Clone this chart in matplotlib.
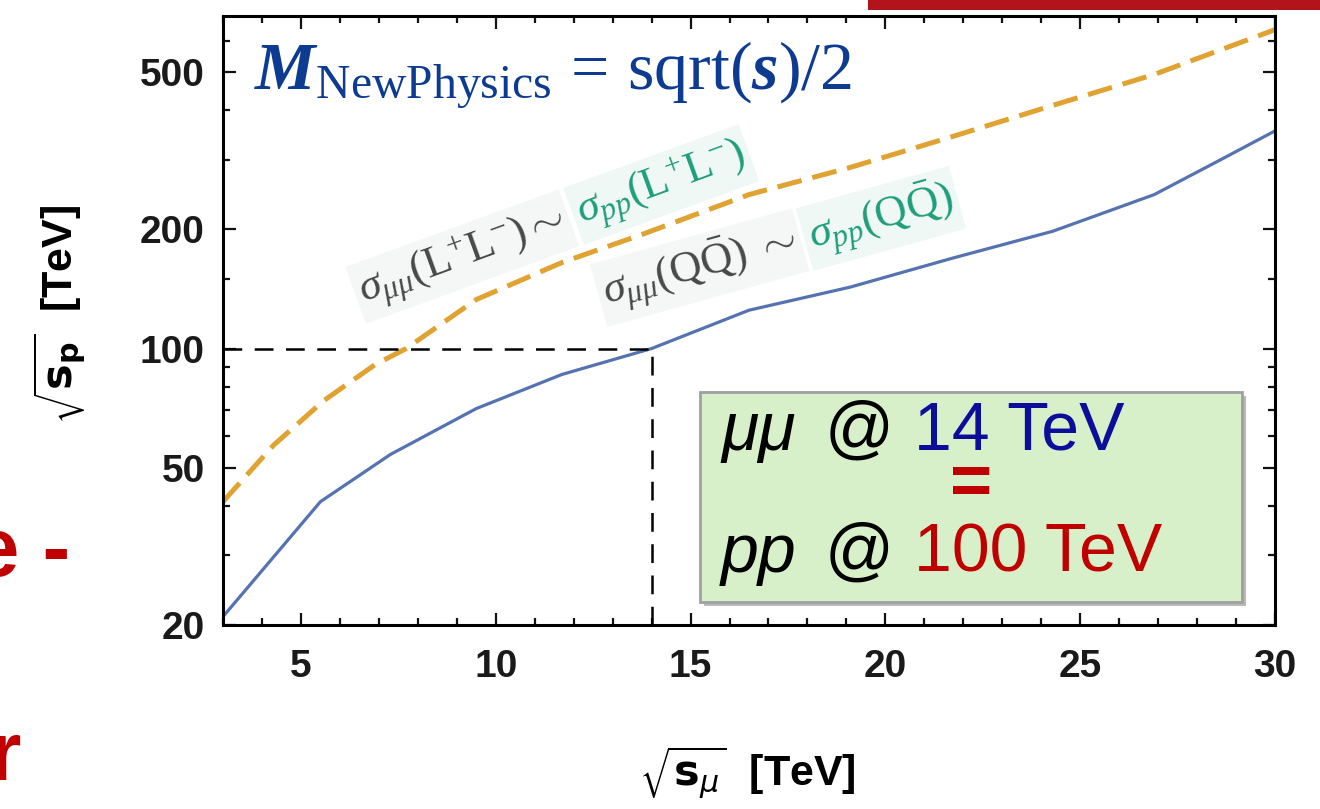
import matplotlib
matplotlib.use('Agg')
import matplotlib.pyplot as plt
import matplotlib.patheffects as pe
from matplotlib.patches import Rectangle
from matplotlib.ticker import FixedLocator, MultipleLocator, NullFormatter

# values
mu_QQ = [3, 5.5, 7.3, 9.5, 11.7, 14, 16.5, 19.1, 21.7, 24.3, 26.9, 28.6, 30]
p_QQ = [21, 41, 54, 70.5, 86, 100, 125, 143, 169, 198, 245, 300, 355]
mu_LL = [3, 4.3, 5.6, 6.9, 7.7, 9.5, 11.7, 13.8, 16.5, 19.1, 21.7, 24.3, 26.9, 30]
p_LL = [41, 57, 74, 91, 100, 133, 165, 195, 245, 287, 343, 412, 493, 640]
mu_ref = 14
p_ref = 100
xticks = [5, 10, 15, 20, 25, 30]
yticks = [20, 50, 100, 200, 500]
yminor = [30, 40, 60, 70, 80, 90, 150, 300, 400, 600]

plt.rcParams['mathtext.fontset'] = 'custom'
plt.rcParams['mathtext.rm'] = 'Liberation Serif'
plt.rcParams['mathtext.it'] = 'Liberation Serif:italic'
plt.rcParams['mathtext.bf'] = 'Liberation Serif:bold'
plt.rcParams['mathtext.bfit'] = 'Liberation Serif:italic:bold'
plt.rcParams['font.family'] = 'Liberation Sans'

W, H = 1320, 809
fig = plt.figure(figsize=(W / 100, H / 100), dpi=100)


def px(x, y):
    # pixel position (from top left) -> figure fraction
    return x / W, 1 - y / H


ax = fig.add_axes([223 / W, 1 - 625 / H, (1275 - 223) / W, (625 - 16) / H])
ax.set_xlim(3, 30)
ax.set_yscale('log')
ax.set_ylim(20, 693)

ax.plot(mu_LL, p_LL, color='#e0a230', lw=3.6, dashes=(5, 2.2), dash_capstyle='butt')
ax.plot(mu_QQ, p_QQ, color='#5573b0', lw=2.3)
ax.hlines(p_ref, 3, mu_ref, colors='k', lw=1.8, linestyles=(0, (7.5, 5)))
ax.vlines(mu_ref, 20, p_ref, colors='k', lw=1.8, linestyles=(0, (7.5, 5)))

ax.set_xticks(xticks)
ax.xaxis.set_minor_locator(MultipleLocator(1))
ax.yaxis.set_major_locator(FixedLocator(yticks))
ax.set_yticklabels([str(t) for t in yticks])
ax.yaxis.set_minor_locator(FixedLocator(yminor))
ax.yaxis.set_minor_formatter(NullFormatter())
ax.tick_params(which='both', direction='in', top=True, right=True, width=1.6, color='#111')
ax.tick_params(which='major', length=9)
ax.tick_params(which='minor', length=5)
ax.tick_params(axis='x', labelsize=28, pad=17, labelcolor='#1a1a1a')
ax.tick_params(axis='y', labelsize=28, pad=13, labelcolor='#1a1a1a')
for lbl in ax.get_xticklabels() + ax.get_yticklabels():
    lbl.set_fontweight('bold')
for sp in ax.spines.values():
    sp.set_linewidth(2.2)

# axis labels
fig.text(*px(60, 314), r'$\sqrt{\mathbf{s}_{\mathbf{p}}}$  [TeV]', rotation=90,
         ha='center', va='center', fontsize=31, weight='bold', math_fontfamily='dejavusans')
fig.text(*px(747, 773), r'$\sqrt{\mathbf{s}_{\mu}}$  [TeV]',
         ha='center', va='center', fontsize=31, weight='bold', math_fontfamily='dejavusans')

# headline formula
fig.text(*px(254, 90), r'$\mathbfit{M}_{\mathrm{NewPhysics}}\,=\,\mathrm{sqrt}(\mathbfit{s})/2$',
         ha='left', va='baseline', fontsize=49, color='#0d3b91')

# curve labels
gray = '#484848'
teal = '#1f9e7a'
bg_g = dict(boxstyle='square,pad=0.12', fc='#f2f4f4', ec='none', alpha=0.7)
bg_t = dict(boxstyle='square,pad=0.12', fc='#e9f6f2', ec='none', alpha=0.7)
lfs = 32
fig.text(*px(364, 303), r'$\sigma_{\mu\mu}(\mathrm{L}^{+}\mathrm{L}^{-})\sim$', rotation=20,
         rotation_mode='anchor', ha='left', va='baseline', fontsize=lfs, color=gray, bbox=bg_g)
fig.text(*px(582, 224), r'$\sigma_{pp}(\mathrm{L}^{+}\mathrm{L}^{-})$', rotation=20,
         rotation_mode='anchor', ha='left', va='baseline', fontsize=lfs, color=teal, bbox=bg_t)
fig.text(*px(607, 306), r'$\sigma_{\mu\mu}(\mathrm{Q}\bar{\mathrm{Q}})\ \sim$', rotation=15.5,
         rotation_mode='anchor', ha='left', va='baseline', fontsize=lfs, color=gray, bbox=bg_g)
fig.text(*px(813, 250), r'$\sigma_{pp}(\mathrm{Q}\bar{\mathrm{Q}})$', rotation=15.5,
         rotation_mode='anchor', ha='left', va='baseline', fontsize=lfs, color=teal, bbox=bg_t)

# green box
box = Rectangle(px(700, 602), 542 / W, 210 / H, transform=fig.transFigure,
                fc='#d8f0ca', ec='#a0a0a0', lw=2,
                path_effects=[pe.SimplePatchShadow(offset=(3, -3), shadow_rgbFace='#777', alpha=0.5),
                              pe.Normal()])
fig.add_artist(box)
fs = 49
fig.text(*px(721, 450), 'μμ', style='italic', fontsize=fs, color='k', va='baseline')
fig.text(*px(825, 450), '@', fontsize=fs, color='k', va='baseline')
fig.text(*px(914, 450), '14 TeV', fontsize=fs, color='#0d0d9c', va='baseline')
fig.text(*px(971, 485), '=', fontsize=52, weight='bold', color='#c00000', ha='center', va='center')
fig.text(*px(721, 572), 'pp', style='italic', fontsize=fs, color='k', va='baseline')
fig.text(*px(825, 572), '@', fontsize=fs, color='k', va='baseline')
fig.text(*px(914, 572), '100 TeV', fontsize=fs, color='#c00000', va='baseline')

# slide fragments
fig.text(*px(70, 576), 'e -', ha='right', va='baseline', fontsize=60, weight='bold', color='#c00000')
fig.text(*px(21, 780), 'r', ha='right', va='baseline', fontsize=60, weight='bold', color='#c00000')
fig.add_artist(Rectangle(px(868, 10), 452 / W, 10 / H, transform=fig.transFigure,
                         fc='#b3141b', ec='none'))

fig.savefig('out.png', dpi=100)
